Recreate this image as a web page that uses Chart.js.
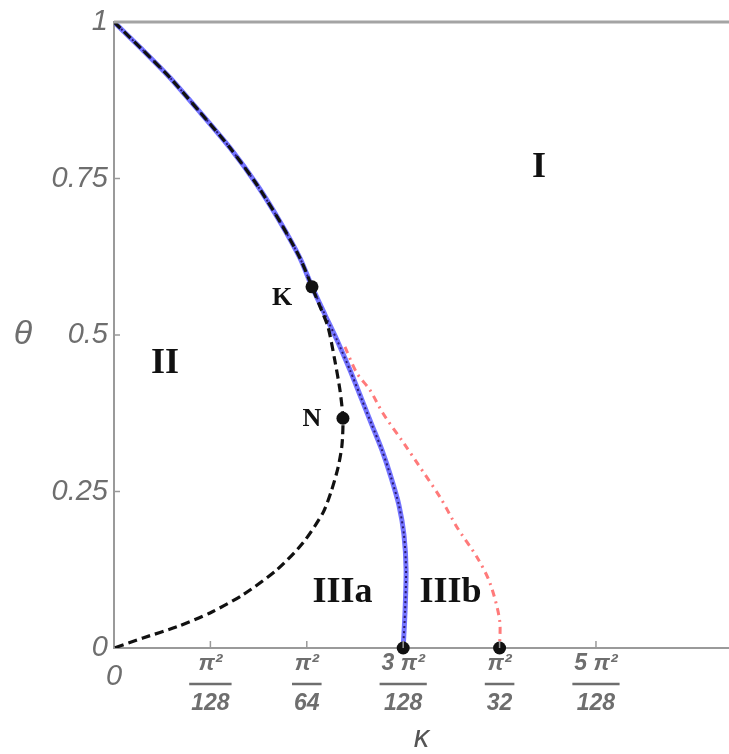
<!DOCTYPE html>
<html><head><meta charset="utf-8">
<script src="https://cdn.jsdelivr.net/npm/chart.js@4/dist/chart.umd.min.js"></script>
<style>html,body{margin:0;padding:0;background:#fff;overflow:hidden}#wrap{width:729px;height:754px;position:relative}</style>
</head><body><div id="wrap"><canvas id="c"></canvas></div>
<script>
// kappa expressed in units of pi^2/128
const xTickValues = [0, 1, 2, 3, 4, 5];
const xTickLabels = ['0', ['π²', '', '128'], ['π²', '', '64'], ['3 π²', '', '128'], ['π²', '', '32'], ['5 π²', '', '128']];
const yTickValues = [0, 0.25, 0.5, 0.75, 1];
const yTickLabels = ['0', '0.25', '0.5', '0.75', '1'];

const blackKappa = [0, 0.30, 0.581, 0.892, 1.203, 1.483, 1.722, 1.929, 2.054, 2.13, 2.22, 2.29, 2.344, 2.375, 2.365, 2.324, 2.251, 2.168, 1.961, 1.691, 1.338, 0.996, 0.654, 0.30, 0];
const blackTheta = [1, 0.955, 0.911, 0.856, 0.799, 0.740, 0.681, 0.623, 0.577, 0.548, 0.513, 0.460, 0.412, 0.367, 0.324, 0.288, 0.249, 0.216, 0.168, 0.125, 0.085, 0.056, 0.034, 0.016, 0];

const blueKappa = [0, 0.30, 0.581, 0.892, 1.203, 1.483, 1.722, 1.929, 2.054, 2.19, 2.313, 2.448, 2.573, 2.676, 2.78, 2.873, 2.956, 3.008, 3.03, 3.02, 3.0];
const blueTheta = [1, 0.955, 0.911, 0.856, 0.799, 0.740, 0.681, 0.623, 0.577, 0.532, 0.492, 0.444, 0.396, 0.356, 0.316, 0.273, 0.228, 0.181, 0.125, 0.061, 0];

const redKappa = [2.396, 2.52, 2.656, 2.79, 3.02, 3.143, 3.382, 3.558, 3.766, 3.90, 4.0, 4.0];
const redTheta = [0.481, 0.439, 0.412, 0.375, 0.324, 0.296, 0.241, 0.193, 0.145, 0.104, 0.045, 0];

const pointKappa = [2.054, 2.375, 3, 4];
const pointTheta = [0.577, 0.367, 0, 0];

const regionText = ['I', 'II', 'IIIa', 'IIIb', 'K', 'N'];
const regionKappa = [4.41, 0.53, 2.37, 3.49, 1.743, 2.054];
const regionTheta = [0.767, 0.454, 0.088, 0.088, 0.559, 0.366];

const zip = (xs, ys) => xs.map((x, i) => ({x: x, y: ys[i]}));
const GRAY = '#9a9a9a';
const LABEL = '#6e6e6e';

const decor = {
  id: 'decor',
  afterDraw(chart) {
    const ctx = chart.ctx, xs = chart.scales.x, ys = chart.scales.y, ca = chart.chartArea;
    ctx.save();
    // top frame line
    ctx.strokeStyle = '#a4a4a4'; ctx.lineWidth = 3;
    ctx.beginPath(); ctx.moveTo(ca.left, ca.top); ctx.lineTo(ca.right, ca.top); ctx.stroke();
    // inner tick marks
    ctx.strokeStyle = GRAY; ctx.lineWidth = 1.5;
    yTickValues.forEach(v => {
      if (v === 0 || v === 1) return;
      const py = ys.getPixelForValue(v);
      ctx.beginPath(); ctx.moveTo(ca.left, py); ctx.lineTo(ca.left + 6, py); ctx.stroke();
    });
    xTickValues.forEach(v => {
      if (v === 0) return;
      const px = xs.getPixelForValue(v);
      ctx.beginPath(); ctx.moveTo(px, ca.bottom); ctx.lineTo(px, ca.bottom - 7); ctx.stroke();
    });
    // fraction bars
    ctx.strokeStyle = LABEL; ctx.lineWidth = 2.5;
    ctx.font = 'italic bold 23px "Liberation Sans", Arial, sans-serif';
    const pad = xs.options.ticks.padding;
    xTickValues.forEach((v, i) => {
      const lab = xTickLabels[i];
      if (!Array.isArray(lab)) return;
      const w = Math.max(ctx.measureText(lab[0]).width, ctx.measureText(lab[2]).width) + 4;
      const px = xs.getPixelForValue(v);
      const py = xs.top + pad + 30;
      ctx.beginPath(); ctx.moveTo(px - w / 2, py); ctx.lineTo(px + w / 2, py); ctx.stroke();
    });
    // theta axis title (upright)
    ctx.fillStyle = LABEL;
    ctx.font = 'italic 34px "Liberation Sans", Arial, sans-serif';
    ctx.textAlign = 'center'; ctx.textBaseline = 'middle';
    ctx.fillText('θ', 23, (ca.top + ca.bottom) / 2);
    // region labels
    ctx.fillStyle = '#111';
    regionText.forEach((t, i) => {
      const small = (t === 'K' || t === 'N');
      ctx.font = (small ? 'bold 26px' : 'bold 36px') + ' "Liberation Serif", "Times New Roman", serif';
      ctx.fillText(t, xs.getPixelForValue(regionKappa[i]), ys.getPixelForValue(regionTheta[i]));
    });
    ctx.restore();
  }
};

new Chart(document.getElementById('c'), {
  type: 'scatter',
  data: {
    datasets: [
      {label: 'points', data: zip(pointKappa, pointTheta), order: 0, showLine: false,
       pointRadius: 6.5, pointBackgroundColor: '#111', pointBorderWidth: 0, clip: false},
      {label: 'black', data: zip(blackKappa, blackTheta), order: 1, showLine: true, pointRadius: 0,
       borderColor: '#111', borderWidth: 3.2, borderDash: [9, 5], tension: 0.25, fill: false},
      {label: 'red', data: zip(redKappa, redTheta), order: 2, showLine: true, pointRadius: 0,
       borderColor: '#ff7a7a', borderWidth: 3, borderDash: [7, 5, 2, 5], tension: 0.3, fill: false},
      {label: 'navy', data: zip(blueKappa, blueTheta), order: 3, showLine: true, pointRadius: 0,
       borderColor: '#2a1a70', borderWidth: 2, borderDash: [2, 3], tension: 0.25, fill: false},
      {label: 'blue', data: zip(blueKappa, blueTheta), order: 4, showLine: true, pointRadius: 0,
       borderColor: 'rgba(70,70,255,0.75)', borderWidth: 5, tension: 0.25, fill: false}
    ]
  },
  options: {
    responsive: true, maintainAspectRatio: false, animation: false, events: [],
    layout: {autoPadding: false, padding: {top: 22, right: 0, left: 0, bottom: 0}},
    plugins: {legend: {display: false}, tooltip: {enabled: false}},
    scales: {
      x: {
        type: 'linear', min: 0, max: 6.38, z: 1,
        grid: {display: false, drawTicks: false},
        border: {display: true, color: GRAY, width: 2},
        afterBuildTicks: s => { s.ticks = xTickValues.map(v => ({value: v})); },
        afterFit: s => { s.height = 106; s.paddingRight = 0; s.paddingLeft = 0; },
        ticks: {
          autoSkip: false, maxRotation: 0, padding: 6, color: LABEL,
          font: c => (c.index === 0
            ? {family: '"Liberation Sans", Arial, sans-serif', size: 29, style: 'italic', lineHeight: '46px'}
            : {family: '"Liberation Sans", Arial, sans-serif', size: 23, style: 'italic', weight: 'bold', lineHeight: '20px'}),
          callback: (v, i) => xTickLabels[xTickValues.indexOf(v)]
        },
        title: {display: true, text: 'κ', color: '#555', padding: 0,
          font: {family: '"Liberation Sans", Arial, sans-serif', size: 31, style: 'italic', lineHeight: 1}}
      },
      y: {
        type: 'linear', min: 0, max: 1,
        grid: {display: false, drawTicks: false},
        border: {display: true, color: GRAY, width: 2},
        afterBuildTicks: s => { s.ticks = yTickValues.map(v => ({value: v})); },
        afterFit: s => { s.width = 114; s.paddingTop = 0; s.paddingBottom = 0; },
        ticks: {
          autoSkip: false, padding: 6, color: LABEL,
          font: {family: '"Liberation Sans", Arial, sans-serif', size: 29, style: 'italic'},
          callback: v => yTickLabels[yTickValues.indexOf(v)]
        }
      }
    }
  },
  plugins: [decor]
});
</script>
</body></html>
